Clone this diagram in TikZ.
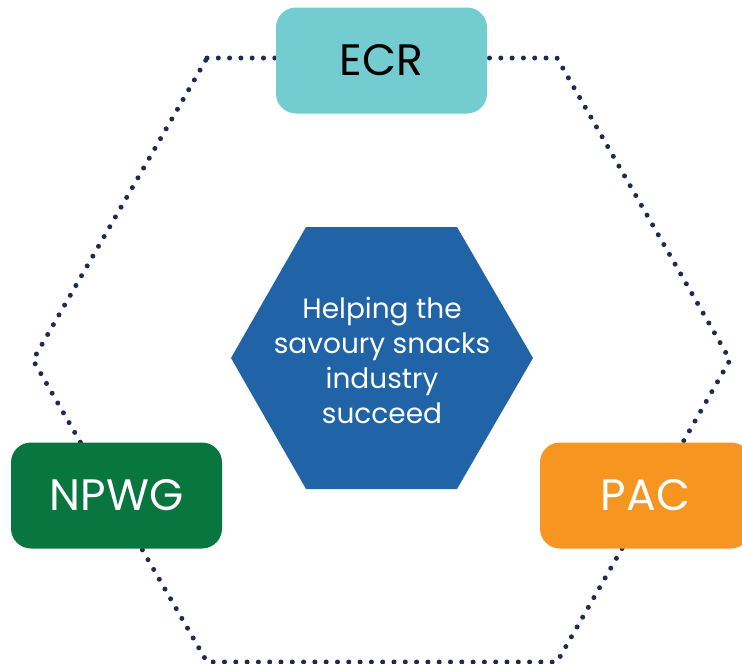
\documentclass[tikz,border=0pt]{standalone}
\usepackage{fontspec}
\setmainfont{Poppins}
\usetikzlibrary{shapes.geometric}
\definecolor{ecrcol}{HTML}{72CCD0}
\definecolor{npwgcol}{HTML}{08763E}
\definecolor{paccol}{HTML}{F69621}
\definecolor{hexcol}{HTML}{2064A7}
\definecolor{dotcol}{HTML}{1C2A56}
\tikzset{
  dotline/.style={draw=dotcol, line width=5pt, line cap=round, dash pattern=on 0pt off 11.3pt},
  labelbox/.style={rounded corners=20pt, minimum width=211pt, minimum height=106pt, inner sep=0pt, font=\fontsize{44}{46}\selectfont},
  centertext/.style={text=white, align=center, font=\fontsize{28}{35}\selectfont}
}
\begin{document}
\begin{tikzpicture}[x=1pt,y=-1pt]
\useasboundingbox (0,0) rectangle (742,664);
% outer hexagon corners
\coordinate (h1) at (207,58);
\coordinate (h2) at (557,58);
\coordinate (h3) at (730,360);
\coordinate (h4) at (557,662);
\coordinate (h5) at (207,662);
\coordinate (h6) at (33,360);
\draw[dotline] (h1) -- (h2) -- (h3) -- (h4) -- (h5) -- (h6) -- cycle;
% central hexagon
\coordinate (c1) at (306,227);
\coordinate (c2) at (457,227);
\coordinate (c3) at (533,358);
\coordinate (c4) at (457,489);
\coordinate (c5) at (306,489);
\coordinate (c6) at (231,358);
\fill[hexcol] (c1) -- (c2) -- (c3) -- (c4) -- (c5) -- (c6) -- cycle;
\node[centertext] (center) at (382,360) {Helping the\\savoury snacks\\industry\\succeed};
% boxes
\node[labelbox, fill=ecrcol, text=black] (ecr) at (381.5,60.5) {ECR};
\node[labelbox, fill=npwgcol, text=white] (npwg) at (116.5,495.5) {NPWG};
\node[labelbox, fill=paccol, text=white] (pac) at (645.5,495.5) {PAC};
\end{tikzpicture}
\end{document}
